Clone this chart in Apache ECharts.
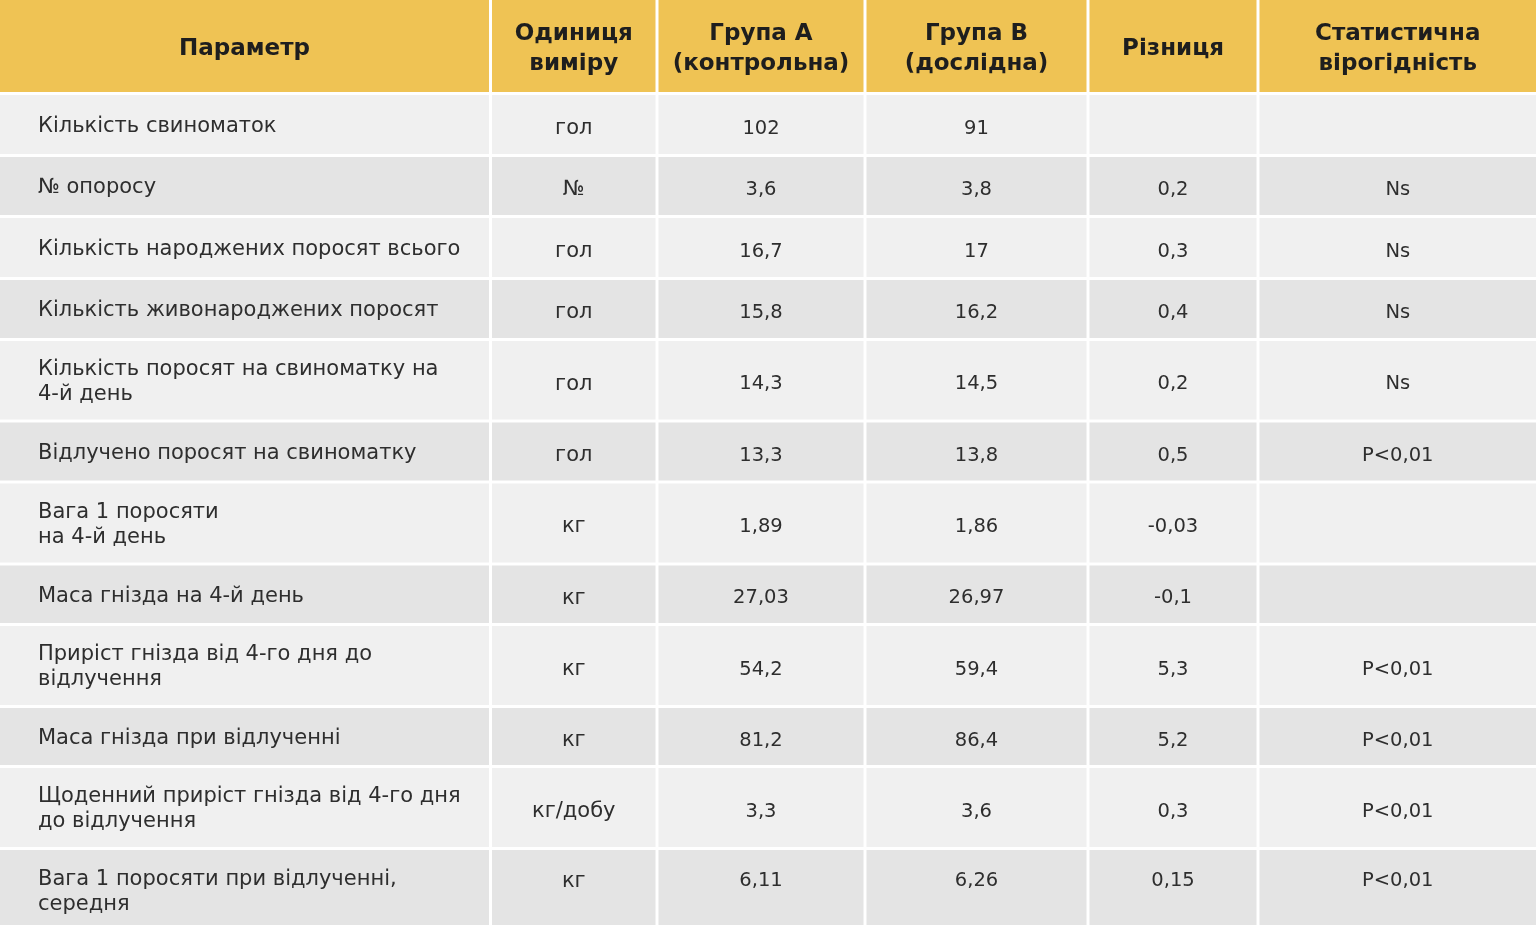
<!DOCTYPE html>
<html>
<head>
<meta charset="utf-8">
<script src="https://cdn.jsdelivr.net/npm/echarts@6/dist/echarts.min.js"></script>
<style>html,body{margin:0;padding:0;background:#fff;}#c{width:1536px;height:925px;}</style>
</head>
<body>
<div id="c"></div>
<script>
const headers = ['Параметр', 'Одиниця\nвиміру', 'Група А\n(контрольна)', 'Група В\n(дослідна)', 'Різниця', 'Статистична\nвірогідність'];
const parameters = [
  'Кількість свиноматок',
  '№ опоросу',
  'Кількість народжених поросят всього',
  'Кількість живонароджених поросят',
  'Кількість поросят на свиноматку на\n4-й день',
  'Відлучено поросят на свиноматку',
  'Вага 1 поросяти\nна 4-й день',
  'Маса гнізда на 4-й день',
  'Приріст гнізда від 4-го дня до\nвідлучення',
  'Маса гнізда при відлученні',
  'Щоденний приріст гнізда від 4-го дня\nдо відлучення',
  'Вага 1 поросяти при відлученні,\nсередня'
];
const units = ['гол', '№', 'гол', 'гол', 'гол', 'гол', 'кг', 'кг', 'кг', 'кг', 'кг/добу', 'кг'];
const groupA = ['102', '3,6', '16,7', '15,8', '14,3', '13,3', '1,89', '27,03', '54,2', '81,2', '3,3', '6,11'];
const groupB = ['91', '3,8', '17', '16,2', '14,5', '13,8', '1,86', '26,97', '59,4', '86,4', '3,6', '6,26'];
const difference = ['', '0,2', '0,3', '0,4', '0,2', '0,5', '-0,03', '-0,1', '5,3', '5,2', '0,3', '0,15'];
const significance = ['', 'Ns', 'Ns', 'Ns', 'Ns', 'P<0,01', '', '', 'P<0,01', 'P<0,01', 'P<0,01', 'P<0,01'];

// layout (not data)
const colEdges = [0, 490.5, 657, 865, 1088, 1258, 1536];
const rowEdges = [0, 93.5, 155.5, 216.5, 278.5, 339.5, 421, 482, 564, 624.5, 706.5, 766.5, 848.5, 931];
const GAP = 1.5;
const LAST_ROW_VALUE_SHIFT = -12.5;

const columns = [parameters, units, groupA, groupB, difference, significance];
const cells = [];
headers.forEach((h, c) => cells.push([c, 0, h]));
for (let r = 0; r < parameters.length; r++) {
  for (let c = 0; c < columns.length; c++) cells.push([c, r + 1, columns[c][r]]);
}

const FONT = '"DejaVu Sans", "Noto Sans", sans-serif';

function renderItem(params, api) {
  const c = api.value(0), r = api.value(1);
  const text = cells[params.dataIndex][2];
  const p0 = api.coord([colEdges[c], rowEdges[r]]);
  const p1 = api.coord([colEdges[c + 1], rowEdges[r + 1]]);
  const x0 = p0[0] + (c === 0 ? 0 : GAP);
  const x1 = p1[0] - (c === colEdges.length - 2 ? 0 : GAP);
  const y0 = p0[1] + (r === 0 ? 0 : GAP);
  const y1 = p1[1] - GAP;
  const header = r === 0;
  const fill = header ? '#EFC354' : ((r % 2 === 1) ? '#F0F0F0' : '#E4E4E4');
  const left = (c === 0 && !header);
  let cy = (y0 + y1) / 2 + (header ? 3.5 : (left ? 2 : 4));
  if (!header && !left && r === parameters.length) cy += LAST_ROW_VALUE_SHIFT;
  let font;
  if (header) font = 'bold 23px ' + FONT;
  else if (c <= 1) font = '21px ' + FONT;
  else font = '19.5px ' + FONT;
  return {
    type: 'group',
    children: [
      { type: 'rect', shape: { x: x0, y: y0, width: x1 - x0, height: y1 - y0 }, style: { fill: fill } },
      {
        type: 'text',
        x: left ? x0 + 38 : (x0 + x1) / 2,
        y: cy,
        style: {
          text: text,
          fill: header ? '#1e1e1e' : '#2e2e2e',
          font: font,
          align: left ? 'left' : 'center',
          verticalAlign: 'middle',
          lineHeight: header ? 30 : 25
        }
      }
    ]
  };
}

const chart = echarts.init(document.getElementById('c'), null, { renderer: 'canvas' });
chart.setOption({
  animation: false,
  grid: { left: 0, right: 0, top: 0, bottom: 0 },
  xAxis: { type: 'value', min: 0, max: 1536, show: false },
  yAxis: { type: 'value', min: 0, max: 925, inverse: true, show: false },
  series: [{
    type: 'custom',
    renderItem: renderItem,
    encode: { x: 0, y: 1 },
    clip: true,
    data: cells.map(d => [d[0], d[1]])
  }]
});
</script>
</body>
</html>
